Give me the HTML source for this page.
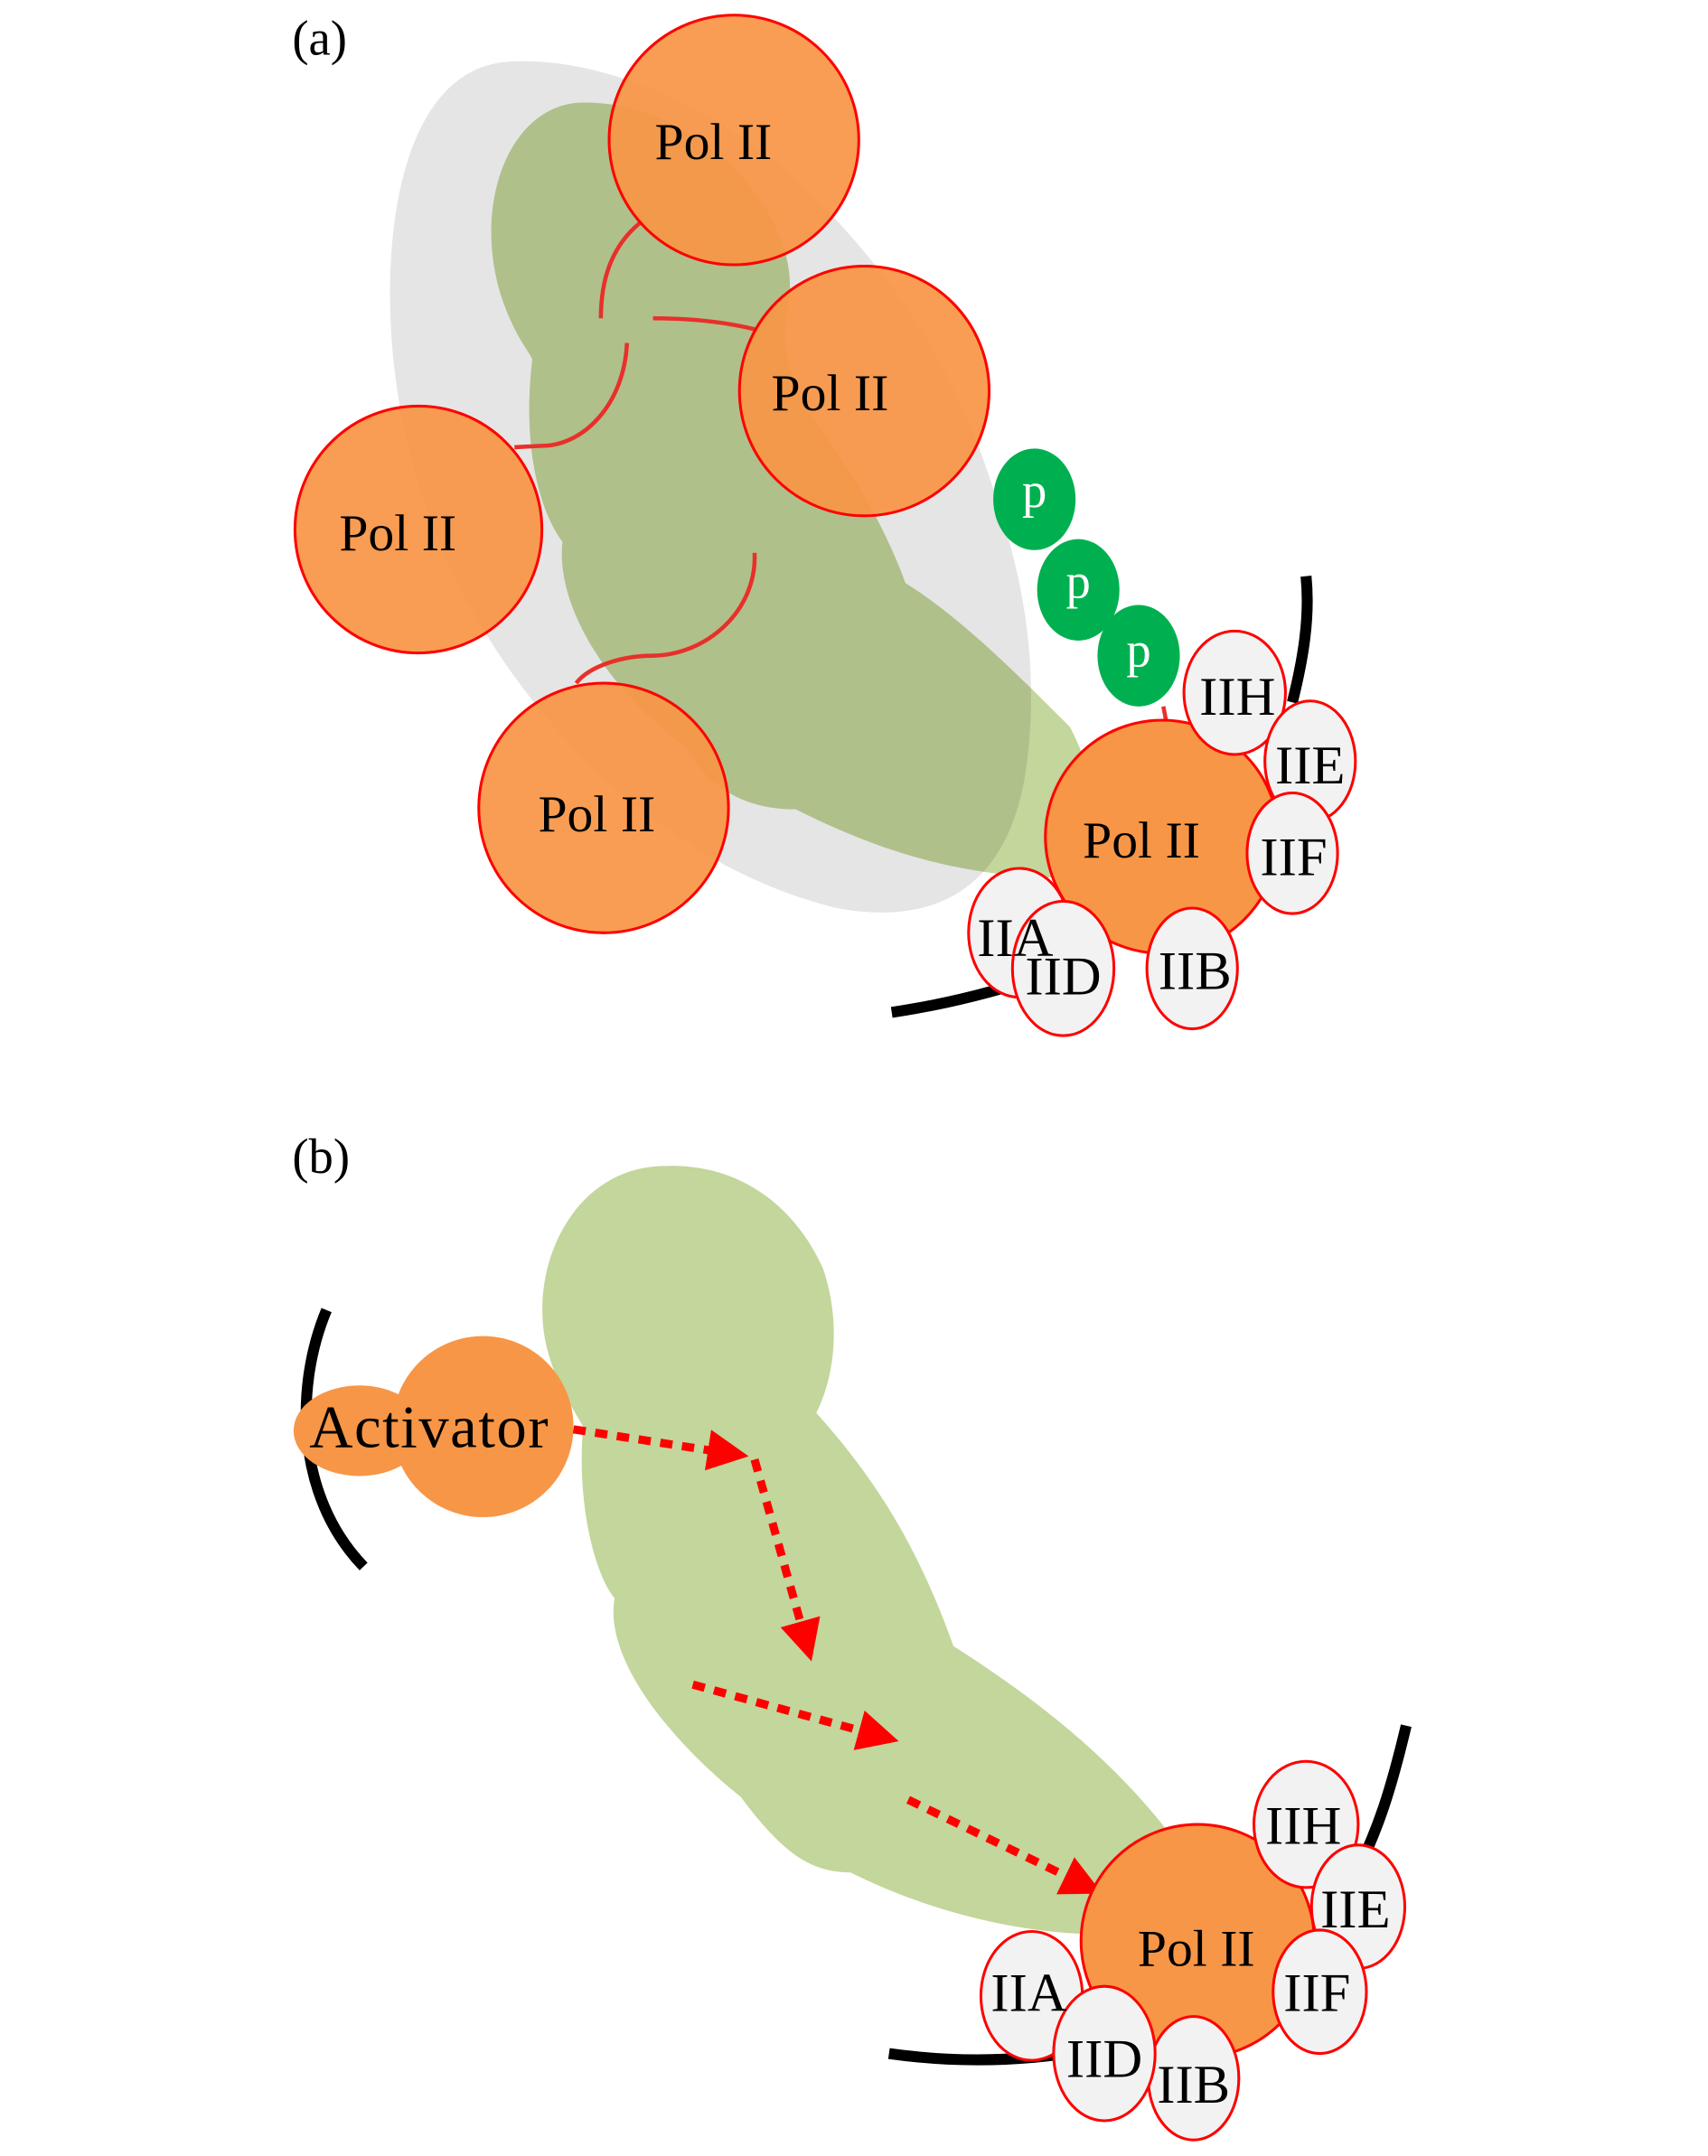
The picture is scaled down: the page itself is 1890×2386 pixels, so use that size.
<!DOCTYPE html>
<html><head><meta charset="utf-8"><style>
html,body{margin:0;padding:0;background:#fff;}
svg{display:block;}
text{font-family:"Liberation Serif",serif;fill:#000;}
</style></head><body>
<svg width="1890" height="2386" viewBox="0 0 1245 1571.7" xmlns="http://www.w3.org/2000/svg">
<defs>
<marker id="ah" viewBox="0 0 10 10" refX="2" refY="5" markerWidth="5" markerHeight="5" orient="auto" markerUnits="strokeWidth">
<path d="M0,0 L10,5 L0,10 z" fill="#f00"/></marker>
</defs>
<!-- Panel (a) -->
<text x="213" y="40" font-size="36">(a)</text>
<path d="M420,75 C370,80 345,150 365,215 C375,245 385,255 388,262 C380,330 395,375 410,395 C405,440 440,500 500,545 C520,580 550,590 580,590 C640,620 700,640 780,640 C810,610 800,570 780,530 C740,490 700,450 660,425 C640,370 610,330 590,300 C570,270 570,240 575,220 C585,150 500,70 420,75 Z" fill="#c3d69b"/>
<path d="M370,45 C300,50 280,150 285,240 C290,330 320,420 380,500 C440,580 520,640 610,662 C680,675 735,650 748,560 C760,470 740,400 715,330 C690,260 650,200 590,140 C540,90 450,40 370,45 Z" fill="#000" fill-opacity="0.1"/>
<g fill="none" stroke="#e8302a" stroke-width="3">
<path d="M467,162 C445,180 438,205 438,232"/>
<path d="M476,232 C500,232 525,234 550,240"/>
<path d="M457,250 C455,295 425,325 395,325 L375,326"/>
<path d="M550,403 C552,445 515,478 475,478 C455,478 430,485 420,498"/>
<path d="M848,515 L855,552"/>
</g>
<g fill="#f79646" fill-opacity="0.93" stroke="#f00" stroke-width="2">
<circle cx="535" cy="102" r="91"/>
<circle cx="630" cy="285" r="91"/>
<circle cx="305" cy="386" r="90"/>
<circle cx="440" cy="589" r="91"/>
</g>
<g font-size="38" text-anchor="middle">
<text x="520" y="116">Pol II</text>
<text x="605" y="299">Pol II</text>
<text x="290" y="401">Pol II</text>
<text x="435" y="606">Pol II</text>
</g>
<g fill="#00b050">
<ellipse cx="754" cy="364" rx="30" ry="37"/>
<ellipse cx="786" cy="430" rx="30" ry="37"/>
<ellipse cx="830" cy="478" rx="30" ry="37"/>
</g>
<g font-size="36" text-anchor="middle">
<text x="754" y="370" style="fill:#fff">p</text>
<text x="786" y="436" style="fill:#fff">p</text>
<text x="830" y="486" style="fill:#fff">p</text>
</g>
<g fill="none" stroke="#000" stroke-width="8">
<path d="M952,420 C955,450 950,480 942,512"/>
<path d="M650,738 C690,732 730,722 770,708"/>
</g>
<circle cx="847" cy="610" r="85" fill="#f79646" stroke="#f00" stroke-width="2"/>
<g fill="#f2f2f2" stroke="#f00" stroke-width="2">
<ellipse cx="900" cy="505" rx="37" ry="45"/>
<ellipse cx="955" cy="555" rx="33" ry="44"/>
<ellipse cx="942" cy="622" rx="33" ry="44"/>
<ellipse cx="743" cy="680" rx="37" ry="47"/>
<ellipse cx="869" cy="706" rx="33" ry="44"/>
<ellipse cx="775" cy="706" rx="37" ry="49"/>
</g>
<text x="832" y="625" font-size="38" text-anchor="middle">Pol II</text>
<g font-size="40" text-anchor="middle">
<text x="902" y="521">IIH</text>
<text x="955" y="571">IIE</text>
<text x="943" y="638">IIF</text>
<text x="740" y="697">IIA</text>
<text x="775" y="725">IID</text>
<text x="871" y="721">IIB</text>
</g>

<!-- Panel (b) -->
<text x="213" y="855" font-size="36">(b)</text>
<path d="M485,850 C420,850 385,920 398,980 C405,1010 420,1030 425,1040 C420,1100 435,1150 448,1165 C440,1210 490,1270 540,1310 C570,1350 590,1365 620,1365 C690,1400 760,1410 800,1410 C830,1400 860,1370 855,1340 C810,1280 750,1235 695,1200 C670,1130 640,1080 595,1030 C610,1000 612,960 600,925 C580,880 540,848 485,850 Z" fill="#c3d69b"/>
<path d="M238,955 C215,1010 215,1090 265,1142" fill="none" stroke="#000" stroke-width="8"/>
<ellipse cx="262" cy="1043" rx="48" ry="33" fill="#f79646"/>
<circle cx="352" cy="1040" r="66" fill="#f79646"/>
<text x="313" y="1055" font-size="44" text-anchor="middle" letter-spacing="1">Activator</text>
<g fill="none" stroke="#f00" stroke-width="6" stroke-dasharray="9,7" marker-end="url(#ah)">
<path d="M418,1042 L522,1058"/>
<path d="M550,1064 L585,1188"/>
<path d="M505,1228 L632,1263"/>
<path d="M662,1312 L782,1370"/>
</g>
<g fill="none" stroke="#000" stroke-width="8">
<path d="M1025,1258 C1015,1300 1005,1335 985,1372"/>
<path d="M648,1497 C690,1503 730,1503 770,1498"/>
</g>
<circle cx="873" cy="1415" r="85" fill="#f79646" stroke="#f00" stroke-width="2"/>
<g fill="#f2f2f2" stroke="#f00" stroke-width="2">
<ellipse cx="952" cy="1330" rx="38" ry="46"/>
<ellipse cx="990" cy="1390" rx="34" ry="45"/>
<ellipse cx="962" cy="1452" rx="34" ry="45"/>
<ellipse cx="752" cy="1455" rx="37" ry="47"/>
<ellipse cx="870" cy="1515" rx="33" ry="45"/>
<ellipse cx="805" cy="1497" rx="37" ry="49"/>
</g>
<text x="872" y="1433" font-size="38" text-anchor="middle">Pol II</text>
<g font-size="40" text-anchor="middle">
<text x="950" y="1344">IIH</text>
<text x="988" y="1405">IIE</text>
<text x="960" y="1466">IIF</text>
<text x="750" y="1466">IIA</text>
<text x="805" y="1514">IID</text>
<text x="870" y="1533">IIB</text>
</g>
</svg>
</body></html>
